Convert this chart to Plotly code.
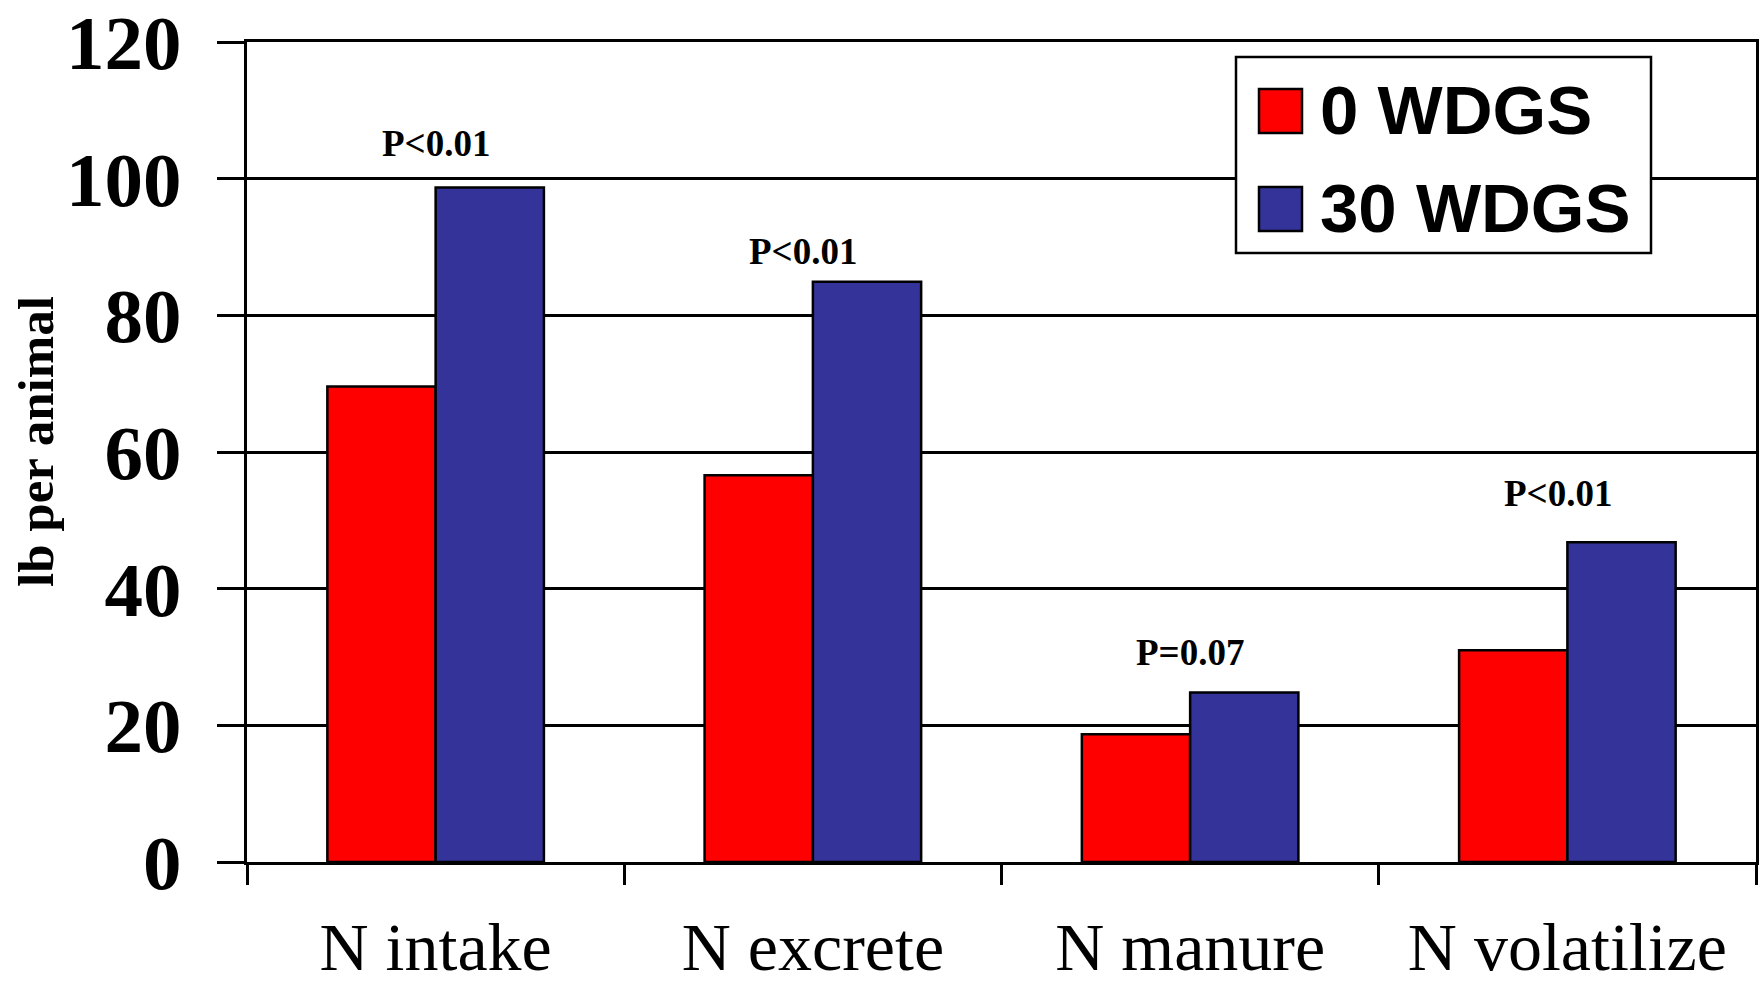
import plotly.graph_objects as go

categories = ["N intake", "N excrete", "N manure", "N volatilize"]
series_names = ["0 WDGS", "30 WDGS"]
wdgs0 = [69.6, 56.6, 18.7, 31.0]
wdgs30 = [98.7, 84.9, 24.8, 46.8]
p_labels = ["P<0.01", "P<0.01", "P=0.07", "P<0.01"]
p_label_y = [105.2, 89.3, 30.7, 54.0]
y_ticks = [0, 20, 40, 60, 80, 100, 120]
y_title = "lb per animal"

colors = ["#FF0000", "#333399"]

W, H = 1759, 986
L, R, T, B = 247, 3, 42, 124
PW, PH = W - L - R, H - T - B

# small horizontal nudges (px) of the p-value labels, as in the original
P_LABEL_NUDGE = {"N excrete": -10, "N volatilize": -9}


def px_x(x):
    return (x - L) / PW


def px_y(y):
    return (H - B - y) / PH


fig = go.Figure()
for name, vals, col in zip(series_names, [wdgs0, wdgs30], colors):
    fig.add_trace(go.Bar(
        x=categories, y=vals, name=name,
        marker=dict(color=col, line=dict(color="black", width=2.5)),
        showlegend=False,
    ))

serif = "Liberation Serif, Times New Roman, serif"
sans = "Liberation Sans, Arial, sans-serif"

annotations = []
for cat, lab, yy in zip(categories, p_labels, p_label_y):
    annotations.append(dict(
        x=cat, y=yy, xref="x", yref="y", text=lab, showarrow=False,
        font=dict(family=serif, size=37, color="black", weight="bold"),
        xanchor="center", yanchor="middle", xshift=P_LABEL_NUDGE.get(cat, 0),
    ))

# y-axis title
annotations.append(dict(
    x=0, y=0.5, xref="paper", yref="paper", text=y_title, showarrow=False,
    textangle=-90, xanchor="center", yanchor="middle", xshift=36 - L, yshift=10,
    font=dict(family=serif, size=51, color="black", weight="bold"),
))

# manual legend
shapes = [dict(
    type="rect", xref="paper", yref="paper",
    x0=px_x(1236), x1=px_x(1651), y0=px_y(253), y1=px_y(57),
    line=dict(color="black", width=2.5), fillcolor="white", layer="above",
)]
row_centers = [111, 209]
for name, col, yc in zip(series_names, colors, row_centers):
    shapes.append(dict(
        type="rect", xref="paper", yref="paper",
        x0=px_x(1259), x1=px_x(1302), y0=px_y(yc + 22), y1=px_y(yc - 22),
        line=dict(color="black", width=2.5), fillcolor=col, layer="above",
    ))
    annotations.append(dict(
        x=px_x(1318), y=px_y(yc), xref="paper", yref="paper", text=name,
        showarrow=False, xanchor="left", yanchor="middle",
        font=dict(family=sans, size=69, color="black", weight="bold"),
    ))

fig.update_layout(
    width=W, height=H,
    margin=dict(l=L, r=R, t=T, b=B, pad=0, autoexpand=False),
    paper_bgcolor="white", plot_bgcolor="white",
    bargap=0.426, bargroupgap=0,
    barmode="group",
    annotations=annotations, shapes=shapes,
    xaxis=dict(
        type="category", tickson="boundaries", ticks="outside", ticklen=20,
        tickwidth=2.5, tickcolor="black",
        showline=True, linecolor="black", linewidth=3, mirror=True,
        showgrid=False, automargin=False,
        tickfont=dict(family=serif, size=68, color="black"),
        ticklabelstandoff=23, ticklabeloverflow="allow",
    ),
    yaxis=dict(
        range=[0, 120], tickvals=y_ticks, ticks="outside", ticklen=27,
        tickwidth=2.5, tickcolor="black",
        showline=True, linecolor="black", linewidth=3, mirror=True,
        showgrid=True, gridcolor="black", gridwidth=2.5,
        zeroline=False, automargin=False,
        tickfont=dict(family=serif, size=77, color="black", weight="bold"),
        ticklabelstandoff=20, ticklabeloverflow="allow",
    ),
)

fig.write_html("out.html")
